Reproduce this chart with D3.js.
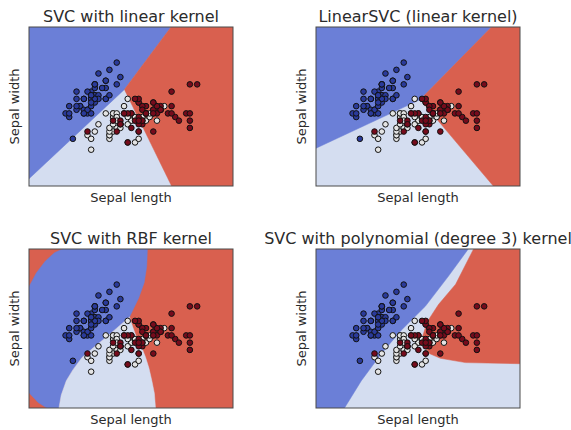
<!DOCTYPE html>
<html>
<head>
<meta charset="utf-8">
<title>SVM classifiers on iris</title>
<script src="https://d3js.org/d3.v7.min.js"></script>
<style>
  html, body { margin: 0; padding: 0; background: #fff; }
  text { font-family: "DejaVu Sans", sans-serif; fill: #2b2b2b; }
</style>
</head>
<body>
<script>
// iris: sepal length / sepal width and class (0 setosa, 1 versicolor, 2 virginica)
const sepalLength = [
  5.1,4.9,4.7,4.6,5.0,5.4,4.6,5.0,4.4,4.9,5.4,4.8,4.8,4.3,5.8,5.7,5.4,5.1,5.7,5.1,
  5.4,5.1,4.6,5.1,4.8,5.0,5.0,5.2,5.2,4.7,4.8,5.4,5.2,5.5,4.9,5.0,5.5,4.9,4.4,5.1,
  5.0,4.5,4.4,5.0,5.1,4.8,5.1,4.6,5.3,5.0,
  7.0,6.4,6.9,5.5,6.5,5.7,6.3,4.9,6.6,5.2,5.0,5.9,6.0,6.1,5.6,6.7,5.6,5.8,6.2,5.6,
  5.9,6.1,6.3,6.1,6.4,6.6,6.8,6.7,6.0,5.7,5.5,5.5,5.8,6.0,5.4,6.0,6.7,6.3,5.6,5.5,
  5.5,6.1,5.8,5.0,5.6,5.7,5.7,6.2,5.1,5.7,
  6.3,5.8,7.1,6.3,6.5,7.6,4.9,7.3,6.7,7.2,6.5,6.4,6.8,5.7,5.8,6.4,6.5,7.7,7.7,6.0,
  6.9,5.6,7.7,6.3,6.7,7.2,6.2,6.1,6.4,7.2,7.4,7.9,6.4,6.3,6.1,7.7,6.3,6.4,6.0,6.9,
  6.7,6.9,5.8,6.8,6.7,6.7,6.3,6.5,6.2,5.9
];
const sepalWidth = [
  3.5,3.0,3.2,3.1,3.6,3.9,3.4,3.4,2.9,3.1,3.7,3.4,3.0,3.0,4.0,4.4,3.9,3.5,3.8,3.8,
  3.4,3.7,3.6,3.3,3.4,3.0,3.4,3.5,3.4,3.2,3.1,3.4,4.1,4.2,3.1,3.2,3.5,3.6,3.0,3.4,
  3.5,2.3,3.2,3.5,3.8,3.0,3.8,3.2,3.7,3.3,
  3.2,3.2,3.1,2.3,2.8,2.8,3.3,2.4,2.9,2.7,2.0,3.0,2.2,2.9,2.9,3.1,3.0,2.7,2.2,2.5,
  3.2,2.8,2.5,2.8,2.9,3.0,2.8,3.0,2.9,2.6,2.4,2.4,2.7,2.7,3.0,3.4,3.1,2.3,3.0,2.5,
  2.6,3.0,2.6,2.3,2.7,3.0,2.9,2.9,2.5,2.8,
  3.3,2.7,3.0,2.9,3.0,3.0,2.5,2.9,2.5,3.6,3.2,2.7,3.0,2.5,2.8,3.2,3.0,3.8,2.6,2.2,
  3.2,2.8,2.8,2.7,3.3,3.2,2.8,3.0,2.8,3.0,2.8,3.8,2.8,2.8,2.6,3.0,3.4,3.1,3.0,3.1,
  3.1,3.1,2.7,3.2,3.3,3.0,2.5,3.0,3.4,3.0
];
const target = d3.range(150).map(i => Math.floor(i / 50));

const titles = [
  "SVC with linear kernel",
  "LinearSVC (linear kernel)",
  "SVC with RBF kernel",
  "SVC with polynomial (degree 3) kernel"
];

// decision regions (sepal length, sepal width)
const linearBlue = [[3.3,5.4],[7.2,5.4],[5.91,3.66],[3.3,1.2]];
const linearRed = [[7.2,5.4],[8.9,5.4],[8.9,1.0],[7.2,1.0],[5.91,3.66]];

const linsvcBlue = [[3.3,5.4],[8.12,5.4],[6.15,3.38],[3.3,2.04]];
const linsvcRed = [[8.12,5.4],[8.9,5.4],[8.9,1.0],[8.15,1.0],[6.15,3.38]];

const rbfBlue = [[3.3,4.34],[3.5,4.72],[3.75,5.05],[4.0,5.28],[4.26,5.4],[6.54,5.4],
  [6.52,4.9],[6.45,4.45],[6.3,4.03],[6.05,3.51],[5.7,3.2],[5.41,2.95],[5.05,2.65],
  [4.75,2.39],[4.5,2.05],[4.32,1.75],[4.18,1.35],[4.12,1.0],[3.79,1.0],[3.55,1.15],[3.3,1.42]];
const rbfLight = [[6.05,3.51],[5.7,3.2],[5.41,2.95],[5.05,2.65],[4.75,2.39],[4.5,2.05],
  [4.32,1.75],[4.18,1.35],[4.12,1.0],[6.76,1.0],[6.73,1.4],[6.66,1.75],[6.58,2.1],
  [6.49,2.39],[6.37,2.7],[6.24,2.95],[6.13,3.25]];

const polyBlue = [[3.3,5.4],[7.48,5.4],[6.93,4.64],[6.29,3.80],[5.64,3.15],[5.09,2.50],
  [4.54,1.75],[4.08,1.0],[3.3,1.0]];
const polyRed = [[7.62,5.4],[8.9,5.4],[8.9,2.22],[7.39,2.25],[6.70,2.37],[6.40,2.50],
  [6.25,2.72],[6.22,2.98],[6.34,3.37],[6.65,3.85],[7.12,4.41]];

const colBlue = "#6b7fd7", colLight = "#d4ddf0", colRed = "#d9604f";
const pointFill = ["#2a3a9a", "#e4e4e4", "#760b1c"];

const panels = [
  { title: titles[0], left: 29, top: 27, base: colLight, regions: [[linearBlue, colBlue], [linearRed, colRed]] },
  { title: titles[1], left: 316, top: 27, base: colLight, regions: [[linsvcBlue, colBlue], [linsvcRed, colRed]] },
  { title: titles[2], left: 29, top: 249, base: colRed, regions: [[rbfBlue, colBlue], [rbfLight, colLight]] },
  { title: titles[3], left: 316, top: 249, base: colLight, regions: [[polyBlue, colBlue], [polyRed, colRed]] }
];

const plotW = 204, plotH = 159;

const svg = d3.select("body").append("svg")
  .attr("width", 571)
  .attr("height", 430);

panels.forEach(function (p, k) {
  const x = d3.scaleLinear().domain([3.3, 8.88]).range([0, plotW]);
  const y = d3.scaleLinear().domain([1.0, 5.38]).range([plotH, 0]);

  const g = svg.append("g").attr("transform", `translate(${p.left},${p.top})`);

  g.append("clipPath").attr("id", "clip" + k)
    .append("rect").attr("width", plotW).attr("height", plotH);

  const area = g.append("g").attr("clip-path", `url(#clip${k})`);
  area.append("rect").attr("width", plotW).attr("height", plotH).attr("fill", p.base);

  const line = d3.line().x(d => x(d[0])).y(d => y(d[1])).curve(d3.curveLinearClosed);
  p.regions.forEach(function (r) {
    area.append("path").attr("d", line(r[0])).attr("fill", r[1]).attr("stroke", r[1]).attr("stroke-width", 0.5);
  });

  area.selectAll("circle")
    .data(d3.range(sepalLength.length))
    .enter().append("circle")
    .attr("cx", i => x(sepalLength[i]))
    .attr("cy", i => y(sepalWidth[i]))
    .attr("r", 2.8)
    .attr("fill", i => pointFill[target[i]])
    .attr("stroke", "#111")
    .attr("stroke-width", 1);

  g.append("rect").attr("width", plotW).attr("height", plotH)
    .attr("fill", "none").attr("stroke", "#4a4a4a").attr("stroke-width", 1);

  g.append("text")
    .attr("x", plotW / 2).attr("y", -5)
    .attr("text-anchor", "middle")
    .attr("font-size", 16)
    .text(p.title);

  g.append("text")
    .attr("x", plotW / 2).attr("y", plotH + 16)
    .attr("text-anchor", "middle")
    .attr("font-size", 13)
    .text("Sepal length");

  g.append("text")
    .attr("transform", `translate(-10,${plotH / 2}) rotate(-90)`)
    .attr("text-anchor", "middle")
    .attr("font-size", 13)
    .text("Sepal width");
});
</script>
</body>
</html>
